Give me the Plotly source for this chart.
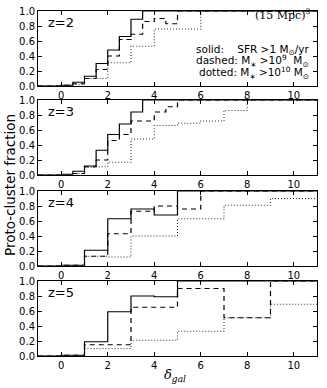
import plotly.graph_objects as go
from plotly.subplots import make_subplots

# ---------------- data ----------------
redshift_labels = ["z=2", "z=3", "z=4", "z=5"]

# bin edges (left edges; last interval runs to the right end of the axis)
edges_fine = [-1, 0, 0.5, 1, 1.5, 2, 2.5, 3, 3.5, 4, 4.5, 5, 6, 7, 8]
edges_coarse = [-1, 0, 1, 2, 3, 4, 5, 6, 7, 8, 9]
x_end = 11

z2_solid = [0, 0.01, 0.05, 0.13, 0.30, 0.48, 0.66, 0.89, 1, 1, 1, 1, 1, 1, 1]
z2_dashed = [0, 0.01, 0.03, 0.10, 0.22, 0.40, 0.62, 0.69, 0.86, 0.90, 0.83, 1, 1, 1, 1]
z2_dotted = [0, 0.01, 0.02, 0.10, 0.10, 0.31, 0.31, 0.53, 0.53, 0.76, 0.76, 0.76, 1, 1, 1]

z3_solid = [0, 0.01, 0.05, 0.12, 0.33, 0.54, 0.68, 0.84, 1, 1, 1, 1, 1, 1, 1]
z3_dashed = [0, 0.00, 0.02, 0.11, 0.20, 0.46, 0.54, 0.72, 0.72, 0.84, 0.91, 1, 1, 1, 1]
z3_dotted = [0, 0.00, 0.02, 0.10, 0.11, 0.17, 0.17, 0.48, 0.48, 0.66, 0.66, 0.69, 0.72, 0.86, 1]

z4_solid = [0, 0.01, 0.21, 0.63, 0.76, 0.68, 1, 1, 1, 1, 1]
z4_dashed = [0, 0.01, 0.13, 0.43, 0.73, 0.80, 0.76, 1, 1, 1, 1]
z4_dotted = [0, 0.00, 0.13, 0.12, 0.40, 0.40, 0.63, 0.63, 0.81, 0.81, 0.90]

z5_solid = [0, 0.01, 0.19, 0.59, 0.80, 0.79, 1, 1, 1, 1, 1]
z5_dashed = [0, 0.01, 0.15, 0.15, 0.65, 0.65, 0.90, 0.90, 0.51, 0.51, 1]
z5_dotted = [0, 0.00, 0.10, 0.10, 0.21, 0.21, 0.33, 0.33, 0.51, 0.51, 0.69]

panels = [
    (edges_fine, z2_solid, z2_dashed, z2_dotted),
    (edges_fine, z3_solid, z3_dashed, z3_dotted),
    (edges_coarse, z4_solid, z4_dashed, z4_dotted),
    (edges_coarse, z5_solid, z5_dashed, z5_dotted),
]

x_ticks = [0, 2, 4, 6, 8, 10]
y_ticks = [0.0, 0.2, 0.4, 0.6, 0.8, 1.0]

# ---------------- figure ----------------
W, H = 327, 388
ml, mr, mt, mb = 38, 10, 11, 32
fig = make_subplots(rows=4, cols=1)

# panel pixel extents (top, bottom) in figure pixels
panel_px = [(11, 86), (100, 175), (191, 266), (281, 356)]
plot_h = H - mt - mb

styles = [
    dict(color="black", width=1.2, dash="solid"),
    dict(color="black", width=1.2, dash="5px,4px"),
    dict(color="#333333", width=1.1, dash="1px,2px"),
]

for i, (edges, s, d, o) in enumerate(panels):
    r = i + 1
    xs = list(edges) + [x_end]
    for vals, st in zip((s, d, o), styles):
        fig.add_trace(go.Scatter(x=xs, y=list(vals) + [vals[-1]], mode="lines",
                                 line=dict(shape="hv", **st), showlegend=False,
                                 hoverinfo="skip"), row=r, col=1)
    top, bot = panel_px[i]
    dom = [(H - mb - bot) / plot_h, (H - mb - top) / plot_h]
    axn = "" if r == 1 else str(r)
    fig.layout["yaxis" + axn].update(domain=dom)
    fig.add_annotation(text=redshift_labels[i], xref=f"x{axn} domain", yref=f"y{axn} domain",
                       x=0.083, y=0.85, xanchor="center", yanchor="middle",
                       showarrow=False, font=dict(size=13, color="black"))

axis_common = dict(showline=True, linecolor="black", linewidth=1, mirror="allticks",
                   ticks="inside", ticklen=4, tickwidth=1, tickcolor="black",
                   showgrid=False, zeroline=False, automargin=False,
                   tickfont=dict(size=10, color="black", family="DejaVu Sans"))
fig.update_xaxes(range=[-1, 11], tickvals=x_ticks, domain=[0, 1], **axis_common)
fig.update_yaxes(range=[0, 1], tickvals=y_ticks, tickformat=".1f", **axis_common)

nb = "\u00a0"
fig.add_annotation(text="(15 Mpc)<sup>3</sup>", xref="x domain", yref="y domain",
                   x=0.985, y=0.96, xanchor="right", yanchor="middle", showarrow=False,
                   font=dict(size=11, color="black", family="DejaVu Serif"))
legend_lines = [
    f"solid:{nb}{nb}{nb} SFR{nb}>1{nb}M<sub>⊙</sub>/yr",
    f"dashed:{nb}M<sub>∗</sub>{nb}>10<sup>9</sup>{nb}{nb}M<sub>⊙</sub>",
    f"dotted:{nb}M<sub>∗</sub>{nb}>10<sup>10</sup>{nb}M<sub>⊙</sub>",
]
for j, txt in enumerate(legend_lines):
    fig.add_annotation(text=txt, xref="x domain", yref="y domain",
                       x=0.98, y=(86 - (50 + 11.5 * j)) / 75, xanchor="right", yanchor="middle",
                       showarrow=False, font=dict(size=10.5, color="black"))

fig.add_annotation(text="Proto-cluster fraction", xref="paper", yref="paper",
                   x=(10 - ml) / (W - ml - mr), y=(H - mb - 185) / plot_h,
                   xanchor="center", yanchor="middle", textangle=-90, showarrow=False,
                   font=dict(size=13.5, color="black"))
fig.add_annotation(text="<i>δ</i><sub><i>gal</i></sub>", xref="paper", yref="paper",
                   x=(175 - ml) / (W - ml - mr), y=(H - mb - 375) / plot_h,
                   xanchor="center", yanchor="middle", showarrow=False,
                   font=dict(size=13, color="black", family="DejaVu Serif"))

fig.update_layout(width=W, height=H, margin=dict(l=ml, r=mr, t=mt, b=mb, autoexpand=False),
                  paper_bgcolor="white", plot_bgcolor="white",
                  font=dict(family="DejaVu Sans", color="black"))

fig.write_html("out.html", config={"displayModeBar": False},
               post_script="document.body.style.margin='0';")
